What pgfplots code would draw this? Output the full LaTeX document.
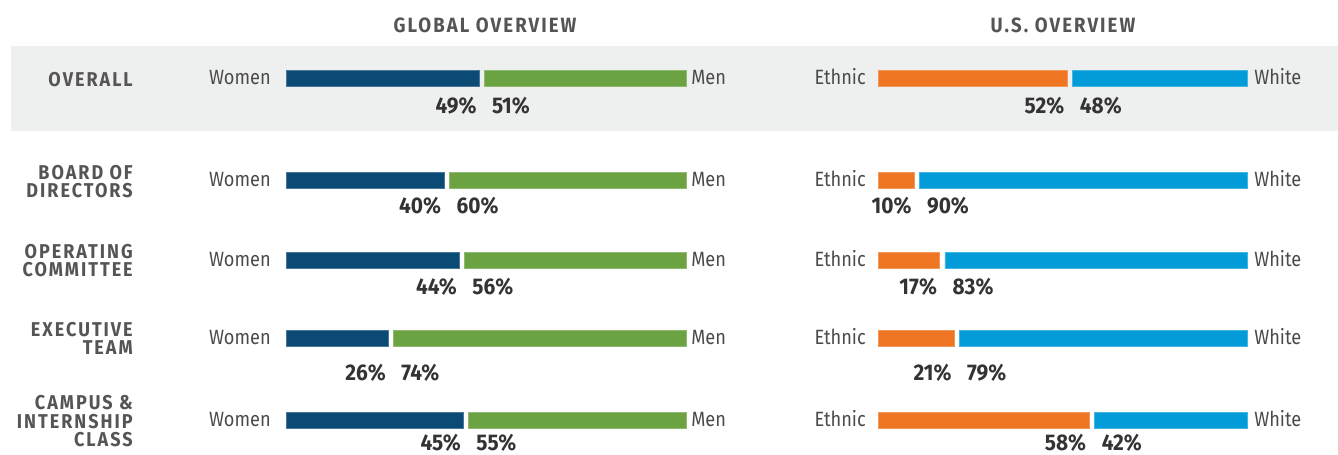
\documentclass[border=0pt]{standalone}
\usepackage{pgfplots}
\pgfplotsset{compat=1.18}
\usepackage{pgfplotstable}
\usepackage{fontspec}
\setmainfont{Fira Sans}[FakeStretch=0.88]
\newfontfamily\capsfont{Fira Sans}[LetterSpace=10,FakeStretch=0.9]
\newfontfamily\pctfont{Fira Sans}[FakeStretch=0.92]
\definecolor{navy}{HTML}{0B4A74}
\definecolor{mgreen}{HTML}{6BA342}
\definecolor{morange}{HTML}{EE7623}
\definecolor{mblue}{HTML}{049CD8}
\definecolor{band}{HTML}{EEF0EF}
\definecolor{txt}{HTML}{4A4A4A}
\definecolor{pct}{HTML}{333333}
\definecolor{hdr}{HTML}{555555}

\pgfplotstableread{
y ly A B
375.3 340 49 51
273.5 240 40 60
193.5 160 44 56
115.3 74 26 74
33.5 3.8 45 55
}\globaltab
\pgfplotstableread{
y ly A B
375.3 340 52 48
273.5 240 10 90
193.5 160 17 83
115.3 74 21 79
33.5 3.8 58 42
}\ustab

\pgfplotsset{
  panel/.style={scale only axis, hide axis, xmin=0, ymin=0, ymax=454,
    height=340.5pt, anchor=south west, clip=false, enlargelimits=false,
    /pgf/number format/assume math mode=true},
  glob/.style={panel, at={(214.5pt,0pt)}, width=300pt, xmax=101.3},
  usp/.style={panel, at={(658.5pt,0pt)}, width=276.75pt, xmax=101.4},
  catlab/.style={draw=none, nodes near coords={#1},
    every node near coord/.style={font=\fontsize{15.5}{18}\selectfont, text=txt, inner sep=0pt, yshift=-2pt}},
  pctA/.style={draw=none, point meta=explicit,
    nodes near coords={\pgfmathprintnumber{\pgfplotspointmeta}\%},
    every node near coord/.style={font=\pctfont\fontsize{17}{19}\selectfont\bfseries, text=pct, inner sep=0pt, anchor=base east, xshift=-2pt}},
  pctB/.style={draw=none, point meta=explicit,
    nodes near coords={\pgfmathprintnumber{\pgfplotspointmeta}\%},
    every node near coord/.style={font=\pctfont\fontsize{17}{19}\selectfont\bfseries, text=pct, inner sep=0pt, anchor=base west, xshift=5.5pt}},
}

\begin{document}
\begin{tikzpicture}
\path[use as bounding box] (0,0) rectangle (1003.5pt,340.5pt);
\fill[band] (8.25pt,242.25pt) rectangle (1003.5pt,306pt);

\node[font=\capsfont\fontsize{15.5}{18}\selectfont\bfseries, text=hdr] at (363.75pt,321.75pt) {GLOBAL OVERVIEW};
\node[font=\capsfont\fontsize{15.5}{18}\selectfont\bfseries, text=hdr] at (797.25pt,321.75pt) {U.S. OVERVIEW};

\tikzset{rowlab/.style={anchor=east, align=right, inner sep=0pt, text=hdr,
  font=\capsfont\fontsize{15}{13.8}\selectfont\bfseries}}
\node[rowlab] at (99.75pt,280.5pt) {OVERALL};
\node[rowlab] at (99.75pt,204.5pt) {BOARD OF\\DIRECTORS};
\node[rowlab] at (99.75pt,144.9pt) {OPERATING\\COMMITTEE};
\node[rowlab] at (99.75pt,86.8pt) {EXECUTIVE\\TEAM};
\node[rowlab] at (99.75pt,24.6pt) {CAMPUS \&\\INTERNSHIP\\CLASS};

% Global bars
\begin{axis}[glob, xbar stacked, bar width=12pt]
\addplot[fill=navy, draw=navy!75!white, line width=0.6pt] table[x=A, y=y] {\globaltab};
\addplot[fill=none, draw=none] table[x expr=1.3, y=y] {\globaltab};
\addplot[fill=mgreen, draw=mgreen!75!white, line width=0.6pt] table[x=B, y=y] {\globaltab};
\end{axis}
\begin{axis}[glob]
\addplot[catlab={Women}, every node near coord/.append style={anchor=mid east, xshift=-11.25pt}] table[x expr=0, y=y] {\globaltab};
\addplot[catlab={Men}, every node near coord/.append style={anchor=mid west, xshift=3.75pt}] table[x expr=101.3, y=y] {\globaltab};
\addplot[pctA] table[x=A, y=ly, meta=A] {\globaltab};
\addplot[pctB] table[x expr=\thisrow{A}+1.3, y=ly, meta=B] {\globaltab};
\end{axis}

% US bars
\begin{axis}[usp, xbar stacked, bar width=12pt]
\addplot[fill=morange, draw=morange!75!white, line width=0.6pt] table[x=A, y=y] {\ustab};
\addplot[fill=none, draw=none] table[x expr=1.4, y=y] {\ustab};
\addplot[fill=mblue, draw=mblue!75!white, line width=0.6pt] table[x=B, y=y] {\ustab};
\end{axis}
\begin{axis}[usp]
\addplot[catlab={Ethnic}, every node near coord/.append style={anchor=mid east, xshift=-9pt}] table[x expr=0, y=y] {\ustab};
\addplot[catlab={White}, every node near coord/.append style={anchor=mid west, xshift=5.25pt}] table[x expr=101.4, y=y] {\ustab};
\addplot[pctA] table[x=A, y=ly, meta=A] {\ustab};
\addplot[pctB] table[x expr=\thisrow{A}+1.4, y=ly, meta=B] {\ustab};
\end{axis}
\end{tikzpicture}
\end{document}
